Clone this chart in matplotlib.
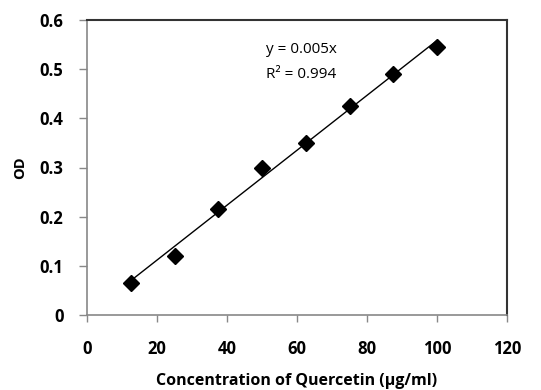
import matplotlib
matplotlib.use("Agg")
import matplotlib.pyplot as plt
import numpy as np

conc = [12.5, 25, 37.5, 50, 62.5, 75, 87.5, 100]
od = [0.065, 0.12, 0.215, 0.30, 0.35, 0.425, 0.49, 0.545]
x_ticks = [0, 20, 40, 60, 80, 100, 120]
y_ticks = [0, 0.1, 0.2, 0.3, 0.4, 0.5, 0.6]
eq_text = "y = 0.005x"
r2_text = "R² = 0.994"

plt.rcParams['font.family'] = ['Open Sans', 'DejaVu Sans']

fig = plt.figure(figsize=(5.41, 3.90), dpi=100)
ax = fig.add_axes([87/541, 1 - 315/390, (507-87)/541, (315-20)/390])

x = np.array(conc)
y = np.array(od)
slope = np.sum(x * y) / np.sum(x * x)
xf = np.array([x.min(), x.max()])
ax.plot(xf, slope * xf, color='black', lw=1.0, zorder=2)
ax.plot(x, y, linestyle='none', marker='D', markersize=8.5, color='black', zorder=3)

ax.set_xlim(0, 120)
ax.set_ylim(0, 0.6)
ax.set_xticks(x_ticks)
ax.set_yticks(y_ticks)
ax.set_xticklabels([str(t) for t in x_ticks], fontweight='bold', fontsize=12)
ax.set_yticklabels(["0" if t == 0 else f"{t:.1f}" for t in y_ticks], fontweight='bold', fontsize=12)
ax.tick_params(axis='x', direction='out', length=5, width=1, color='#888888', pad=13)
ax.tick_params(axis='y', direction='out', length=6, width=1, color='#888888', pad=11)
for s in ['left', 'bottom']:
    ax.spines[s].set_color('#888888')
    ax.spines[s].set_linewidth(1.2)
for s in ['top', 'right']:
    ax.spines[s].set_color('#333333')
    ax.spines[s].set_linewidth(1.5)

ax.set_xlabel("Concentration of Quercetin (µg/ml)", fontweight='bold', fontsize=11.5, labelpad=11)
ax.set_ylabel("OD", fontweight='bold', fontsize=10.5, labelpad=9)

ax.text(51, 0.54, eq_text, fontsize=11, ha='left', va='center')
ax.text(51, 0.49, r2_text, fontsize=11, ha='left', va='center')

fig.savefig("out.png", dpi=100)
